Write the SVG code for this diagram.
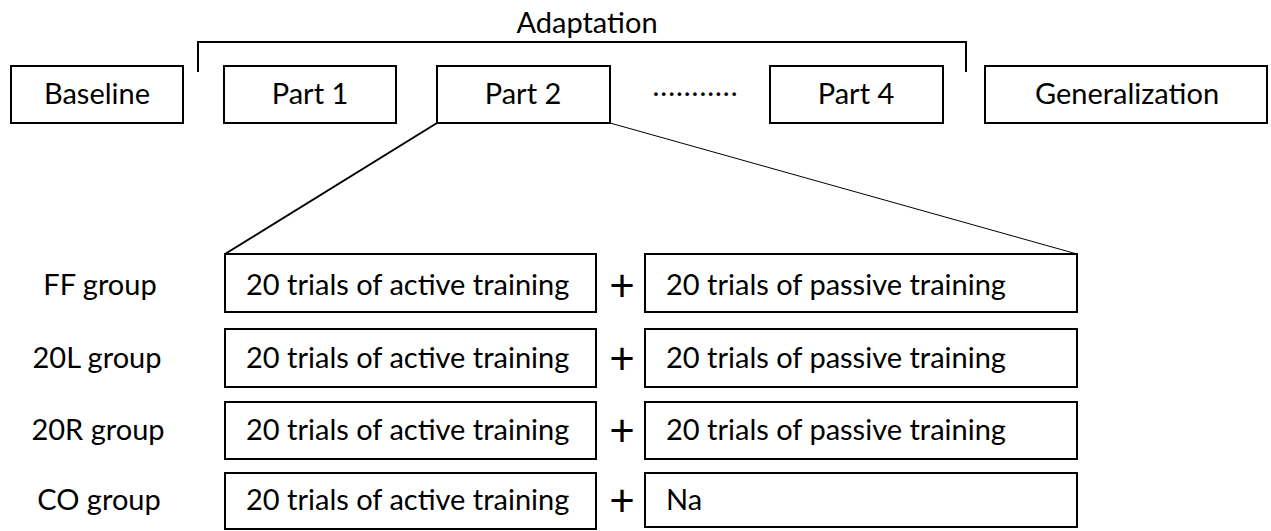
<svg xmlns="http://www.w3.org/2000/svg" width="1271" height="531" viewBox="0 0 1271 531">
  <style>
    .box { fill: #ffffff; stroke: #000000; stroke-width: 2; }
    .lbl { font-family: Lato, "Liberation Sans", sans-serif; font-size: 29px; fill: #000000; }
    .mid { text-anchor: middle; }
    .plus { font-family: Lato, "Liberation Sans", sans-serif; font-size: 44px; font-weight: 400; fill: #000000; text-anchor: middle; }
    .link { fill: none; stroke: #000000; }
  </style>
  <rect width="1271" height="531" fill="#ffffff"/>

  <!-- bracket spanning the adaptation parts -->
  <g id="adaptation">
    <path class="link" stroke-width="2" d="M198,72 V42 H966 V72"/>
    <text class="lbl mid" x="587" y="33">Adaptation</text>
  </g>

  <!-- phase sequence -->
  <g id="baseline">
    <rect class="box" x="11" y="66" width="172" height="57"/>
    <text class="lbl mid" x="97" y="104">Baseline</text>
  </g>
  <g id="part1">
    <rect class="box" x="224" y="66" width="172" height="57"/>
    <text class="lbl mid" x="310" y="104">Part 1</text>
  </g>
  <g id="part2">
    <rect class="box" x="437" y="66" width="173" height="57"/>
    <text class="lbl mid" x="523" y="104">Part 2</text>
  </g>
  <g id="ellipsis">
    <text class="lbl mid" x="695" y="96" textLength="85" lengthAdjust="spacing">...........</text>
  </g>
  <g id="part4">
    <rect class="box" x="770" y="66" width="173" height="57"/>
    <text class="lbl mid" x="856" y="104">Part 4</text>
  </g>
  <g id="generalization">
    <rect class="box" x="985" y="66" width="282" height="57"/>
    <text class="lbl mid" x="1127" y="104">Generalization</text>
  </g>

  <!-- zoom lines from Part 2 to the training blocks -->
  <g id="connectors">
    <line class="link" stroke-width="2" x1="437" y1="123" x2="225" y2="254"/>
    <line class="link" stroke-width="1" x1="610" y1="123" x2="1077" y2="254"/>
  </g>

  <!-- group rows -->
  <g id="ff-group">
    <text class="lbl mid" x="100" y="295">FF group</text>
    <rect class="box" x="225" y="254" width="371" height="58"/>
    <text class="lbl" x="246" y="295">20 trials of active training</text>
    <text class="plus" x="622" y="301">+</text>
    <rect class="box" x="645" y="254" width="432" height="58"/>
    <text class="lbl" x="666" y="295">20 trials of passive training</text>
  </g>
  <g id="20l-group">
    <text class="lbl mid" x="97" y="368">20L group</text>
    <rect class="box" x="225" y="329" width="371" height="58"/>
    <text class="lbl" x="246" y="368">20 trials of active training</text>
    <text class="plus" x="622" y="374">+</text>
    <rect class="box" x="645" y="329" width="432" height="58"/>
    <text class="lbl" x="666" y="368">20 trials of passive training</text>
  </g>
  <g id="20r-group">
    <text class="lbl mid" x="98" y="440">20R group</text>
    <rect class="box" x="225" y="402" width="371" height="57"/>
    <text class="lbl" x="246" y="440">20 trials of active training</text>
    <text class="plus" x="622" y="446">+</text>
    <rect class="box" x="645" y="402" width="432" height="57"/>
    <text class="lbl" x="666" y="440">20 trials of passive training</text>
  </g>
  <g id="co-group">
    <text class="lbl mid" x="99" y="510">CO group</text>
    <rect class="box" x="225" y="473" width="371" height="56"/>
    <text class="lbl" x="246" y="510">20 trials of active training</text>
    <text class="plus" x="622" y="516">+</text>
    <rect class="box" x="645" y="473" width="432" height="54"/>
    <text class="lbl" x="666" y="510">Na</text>
  </g>
</svg>
